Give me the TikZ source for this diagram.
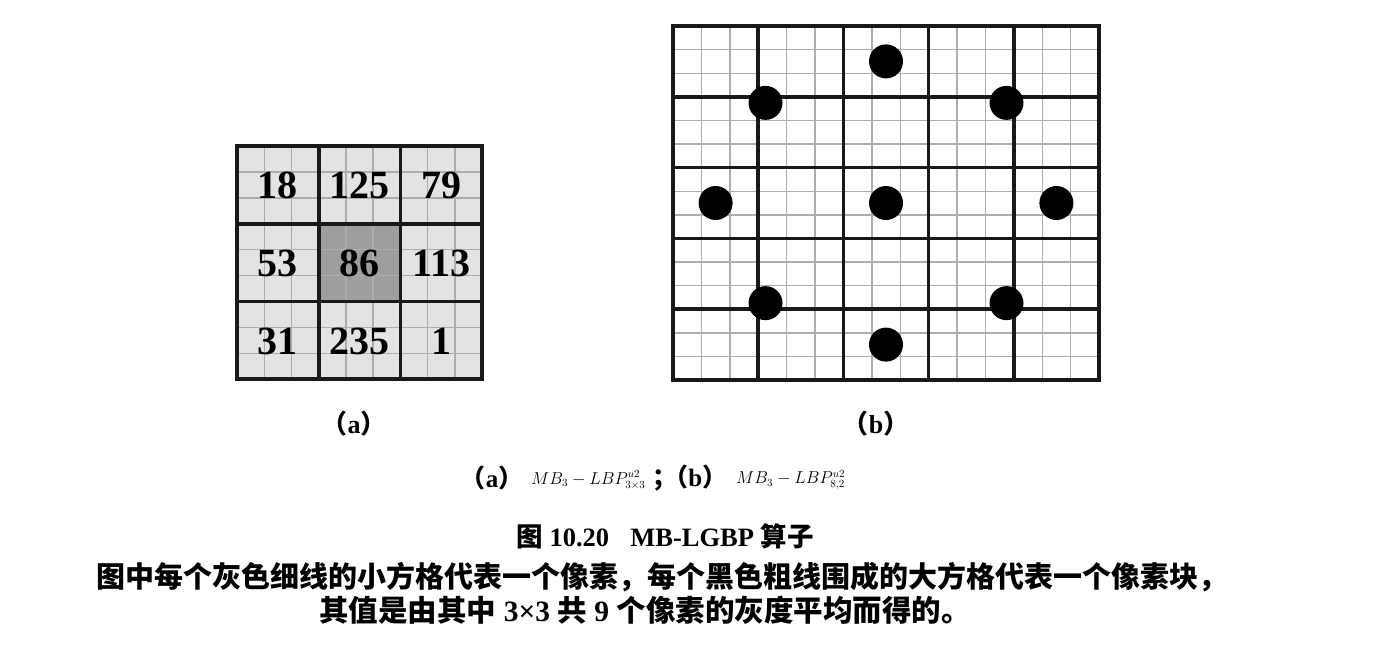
\documentclass[tikz,border=0pt]{standalone}
\usepackage{fontspec}
\usetikzlibrary{calc}
\setmainfont{Liberation Serif}
\newfontfamily\cjk{Noto Sans CJK SC}
\begin{document}
\begin{tikzpicture}[x=1pt,y=-1pt,
  thickline/.style={line width=3.6pt, line cap=rect, draw=black!90},
  thinline/.style={line width=1.4pt, draw=black!32},
  num/.style={font=\fontsize{40}{40}\selectfont\bfseries, inner sep=0pt},
  pixdot/.style={fill=black},
  sublabel/.style={font=\fontsize{26}{26}\selectfont\bfseries, inner sep=0pt},
  caplabel/.style={font=\fontsize{25}{25}\selectfont\bfseries, inner sep=0pt},
  mathlabel/.style={font=\fontsize{16.2}{16.2}\selectfont, inner sep=0pt, anchor=west},
  captext/.style={inner sep=0pt}]
\useasboundingbox (0,0) rectangle (1376,648);
\fill[white] (0,0) rectangle (1376,648);
% ---------- grid (a) ----------
\pgfmathsetmacro\ax{237}\pgfmathsetmacro\ay{146}
\pgfmathsetmacro\aw{81.7}\pgfmathsetmacro\ah{77.7}
\fill[black!11] (\ax,\ay) rectangle ++({3*\aw},{3*\ah});
\fill[black!38] ({\ax+\aw},{\ay+\ah}) rectangle ++(\aw,\ah);
\foreach \i in {1,...,8}{
  \draw[thinline] ({\ax+\i*\aw/3},\ay) -- ++(0,{3*\ah});
  \draw[thinline] (\ax,{\ay+\i*\ah/3}) -- ++({3*\aw},0);
}
\foreach \i in {0,...,3}{
  \draw[thickline] ({\ax+\i*\aw},\ay) -- ++(0,{3*\ah});
  \draw[thickline] (\ax,{\ay+\i*\ah}) -- ++({3*\aw},0);
}
\foreach \t [count=\k from 0] in {18,125,79,53,86,113,31,235,1}{
  \pgfmathtruncatemacro\cc{mod(\k,3)}
  \pgfmathtruncatemacro\rr{int(\k/3)}
  \node[num] (a\k) at ({\ax+(\cc+0.5)*\aw},{\ay+(\rr+0.5)*\ah+1}) {\t};
}
% ---------- grid (b) ----------
\pgfmathsetmacro\bx{673}\pgfmathsetmacro\by{26}
\pgfmathsetmacro\bw{85.2}\pgfmathsetmacro\bh{70.8}
\foreach \i in {1,...,14}{
  \draw[thinline] ({\bx+\i*\bw/3},\by) -- ++(0,{5*\bh});
  \draw[thinline] (\bx,{\by+\i*\bh/3}) -- ++({5*\bw},0);
}
\foreach \i in {0,...,5}{
  \draw[thickline] ({\bx+\i*\bw},\by) -- ++(0,{5*\bh});
  \draw[thickline] (\bx,{\by+\i*\bh}) -- ++({5*\bw},0);
}
\coordinate (bc) at ({\bx+2.5*\bw},{\by+2.5*\bh});
\fill[pixdot] (bc) circle (17);
\foreach \a in {0,45,...,315}{
  \fill[pixdot] ($(bc)+({2*\bw*cos(\a)},{-2*\bh*sin(\a)})$) circle (17);
}
% ---------- sub labels ----------
\node[sublabel] (la) at (354,424) {{\cjk （}a{\cjk ）}};
\node[sublabel] (lb) at (876,424) {{\cjk （}b{\cjk ）}};
% ---------- caption ----------
\node[caplabel] (ca) at (492,478) {{\cjk （}a{\cjk ）}};
\node[mathlabel] (ma) at (531,480) {$MB_3-LBP^{u2}_{3\times3}$};
\node[caplabel, anchor=west] (cb) at (652,478)
  {{\cjk ；\hspace{-0.55em}（}b{\cjk ）}};
\node[mathlabel] (mb) at (736,480) {$MB_3-LBP^{u2}_{8,2}$};
\node[captext, font=\fontsize{26.5}{26.5}\selectfont\bfseries] (title) at (665,536)
  {{\cjk 图} 10.20\hspace{0.8em}MB-LGBP {\cjk 算子}};
\node[captext, font=\fontsize{29}{29}\selectfont\bfseries] (l1) at (662,577)
  {\cjk 图中每个灰色细线的小方格代表一个像素，每个黑色粗线围成的大方格代表一个像素块，};
\node[captext, font=\fontsize{29.5}{29.5}\selectfont\bfseries] (l2) at (645,610)
  {{\cjk 其值是由其中} 3×3 {\cjk 共} 9 {\cjk 个像素的灰度平均而得的。}};
\end{tikzpicture}
\end{document}
